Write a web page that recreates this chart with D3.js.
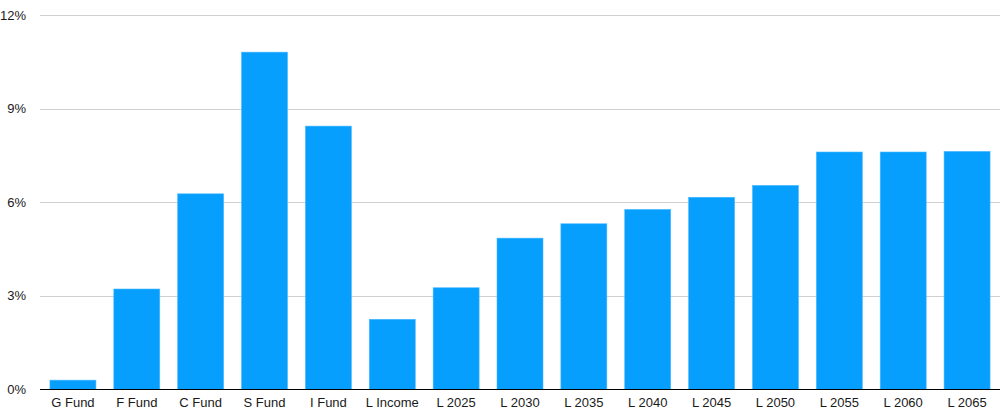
<!DOCTYPE html>
<html>
<head>
<meta charset="utf-8">
<script src="https://cdn.jsdelivr.net/npm/d3@7"></script>
<style>
  html, body { margin: 0; padding: 0; background: #fff; }
  svg text { font-family: "Liberation Sans", Arial, Helvetica, sans-serif; font-size: 13px; fill: #1a1a1a; }
</style>
</head>
<body>
<svg id="chart" width="1000" height="411"></svg>
<script>
const categories = ["G Fund", "F Fund", "C Fund", "S Fund", "I Fund", "L Income", "L 2025", "L 2030", "L 2035", "L 2040", "L 2045", "L 2050", "L 2055", "L 2060", "L 2065"];
const values = [0.30, 3.22, 6.27, 10.81, 8.44, 2.25, 3.26, 4.85, 5.31, 5.77, 6.16, 6.54, 7.61, 7.61, 7.63];
const yTicks = [0, 3, 6, 9, 12];
const yTickLabels = ["0%", "3%", "6%", "9%", "12%"];

(function () {
const svg = d3.select("#chart");
const mLeft = 40, mRight = 1000, mTop = 15, mBottom = 389.5;

const x = d3.scaleBand().domain(categories).range([41, 999]).paddingInner(0.28).paddingOuter(0.14);
const y = d3.scaleLinear().domain([0, 12]).range([mBottom, mTop]);

// gridlines
svg.append("g").selectAll("line").data(yTicks.filter(d => d > 0)).join("line")
  .attr("x1", mLeft).attr("x2", mRight)
  .attr("y1", d => Math.round(y(d)) + 0.5).attr("y2", d => Math.round(y(d)) + 0.5)
  .attr("stroke", "#d0d0d0").attr("stroke-width", 1);

// y labels
svg.append("g").selectAll("text").data(yTicks).join("text")
  .attr("x", 26).attr("y", d => y(d)).attr("dy", "0.35em")
  .attr("text-anchor", "end")
  .text((d, i) => yTickLabels[i]);

// bars
svg.append("g").selectAll("rect").data(values).join("rect")
  .attr("x", (d, i) => x(categories[i]))
  .attr("width", x.bandwidth())
  .attr("y", d => y(d))
  .attr("height", d => y(0) - y(d))
  .attr("fill", "#069ffe")
  .attr("stroke", "#4bb8ff").attr("stroke-width", 0.6);

// baseline
svg.append("line").attr("x1", mLeft).attr("x2", mRight)
  .attr("y1", mBottom).attr("y2", mBottom)
  .attr("stroke", "#000").attr("stroke-width", 1.2);

// x labels
svg.append("g").selectAll("text").data(categories).join("text")
  .attr("x", d => x(d) + x.bandwidth() / 2)
  .attr("y", 407)
  .attr("text-anchor", "middle")
  .text(d => d);
})();
</script>
</body>
</html>
